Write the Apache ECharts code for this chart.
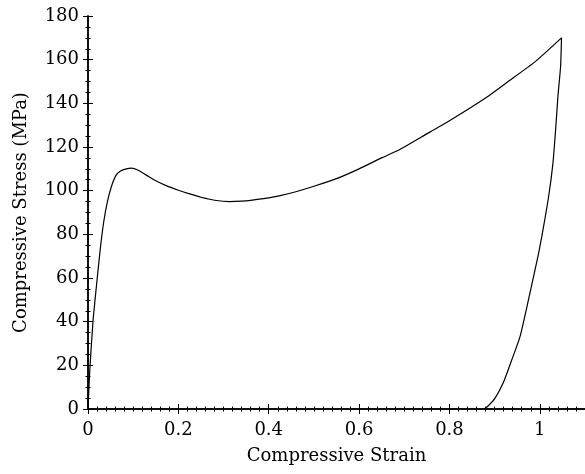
<!DOCTYPE html>
<html>
<head>
<meta charset="utf-8">
<script src="https://cdn.jsdelivr.net/npm/echarts@6/dist/echarts.min.js"></script>
<style>
html,body{margin:0;padding:0;background:#fff;}
#chart{width:585px;height:474px;}
</style>
</head>
<body>
<div id="chart"></div>
<script>
// Loading branch (strain, stress MPa)
const loadStrain = [0, 0.004, 0.011, 0.019, 0.027, 0.035, 0.043, 0.052, 0.062, 0.072, 0.085, 0.096, 0.11, 0.13, 0.15, 0.173, 0.2, 0.225, 0.25, 0.284, 0.313, 0.34, 0.364, 0.4, 0.423, 0.46, 0.5, 0.55, 0.6, 0.65, 0.688, 0.739, 0.8, 0.879, 0.93, 0.989, 1.048];
const loadStress = [0, 18, 40, 57, 73, 86, 95, 102, 107, 109, 110, 110.3, 109.5, 107, 104.5, 102.3, 100.2, 98.5, 97, 95.5, 95, 95.2, 95.7, 96.7, 97.6, 99.5, 102, 105.5, 110, 115, 118.6, 124.7, 132, 142.3, 150, 159, 170];
// Unloading branch
const unloadStrain = [1.048, 1.046, 1.040, 1.035, 1.029, 1.02, 1.007, 0.996, 0.978, 0.956, 0.937, 0.919, 0.901, 0.886, 0.877];
const unloadStress = [170, 157, 143, 128, 112.5, 98, 82, 70, 53, 33, 22, 12, 5, 1.5, 0];

const xTickLabels = ['0', '0.2', '0.4', '0.6', '0.8', '1'];
const yTickLabels = ['0','20','40','60','80','100','120','140','160','180'];

const pts = [];
loadStrain.forEach((x, i) => pts.push([x, loadStress[i]]));
unloadStrain.forEach((x, i) => { if (i > 0) pts.push([x, unloadStress[i]]); });

const FONT = 'DejaVu Serif';
const black = '#000';
function xAx(pos, major, labels) {
  return {
    type: 'value', position: pos, min: 0, max: 1.1,
    interval: major ? 0.2 : 0.02,
    axisLine: { show: major, lineStyle: { color: black, width: 1.5 } },
    axisTick: { show: true, inside: true, length: major ? 5 : 2.5, lineStyle: { color: black, width: 1 } },
    axisLabel: labels ? {
      show: true, margin: 12, color: black, fontFamily: FONT, fontSize: 18, showMaxLabel: false,
      formatter: v => { const i = Math.round(v / 0.2); return (Math.abs(v - i * 0.2) < 1e-6 && i < xTickLabels.length) ? xTickLabels[i] : ''; }
    } : { show: false },
    splitLine: { show: false },
    name: labels ? 'Compressive Strain' : '', nameLocation: 'middle', nameGap: 38,
    nameTextStyle: { color: black, fontFamily: FONT, fontSize: 18 }
  };
}
function yAx(pos, major, labels) {
  return {
    type: 'value', position: pos, min: 0, max: 180, interval: major ? 20 : 5,
    axisLine: { show: major, lineStyle: { color: black, width: 1.5 } },
    axisTick: { show: true, inside: true, length: major ? 5 : 2.5, lineStyle: { color: black, width: 1 } },
    axisLabel: labels ? {
      show: true, margin: 9, color: black, fontFamily: FONT, fontSize: 18,
      formatter: v => yTickLabels[Math.round(v / 20)] ?? ''
    } : { show: false },
    splitLine: { show: false },
    name: labels ? 'Compressive Stress (MPa)' : '', nameLocation: 'middle', nameGap: 58,
    nameTextStyle: { color: black, fontFamily: FONT, fontSize: 18 }
  };
}

const chart = echarts.init(document.getElementById('chart'), null, { renderer: 'canvas' });
chart.setOption({
  animation: false,
  backgroundColor: '#fff',
  grid: { left: 88, top: 16, width: 499, height: 393, containLabel: false },
  xAxis: [xAx('bottom', true, true), xAx('bottom', false, false), xAx('top', true, false), xAx('top', false, false)],
  yAxis: [yAx('left', true, true), yAx('left', false, false), yAx('right', true, false), yAx('right', false, false)],
  series: [{
    type: 'line', xAxisIndex: 0, yAxisIndex: 0, data: pts, showSymbol: false, smooth: 0.2,
    lineStyle: { color: black, width: 1.2 }, clip: false
  }]
});
</script>
</body>
</html>
